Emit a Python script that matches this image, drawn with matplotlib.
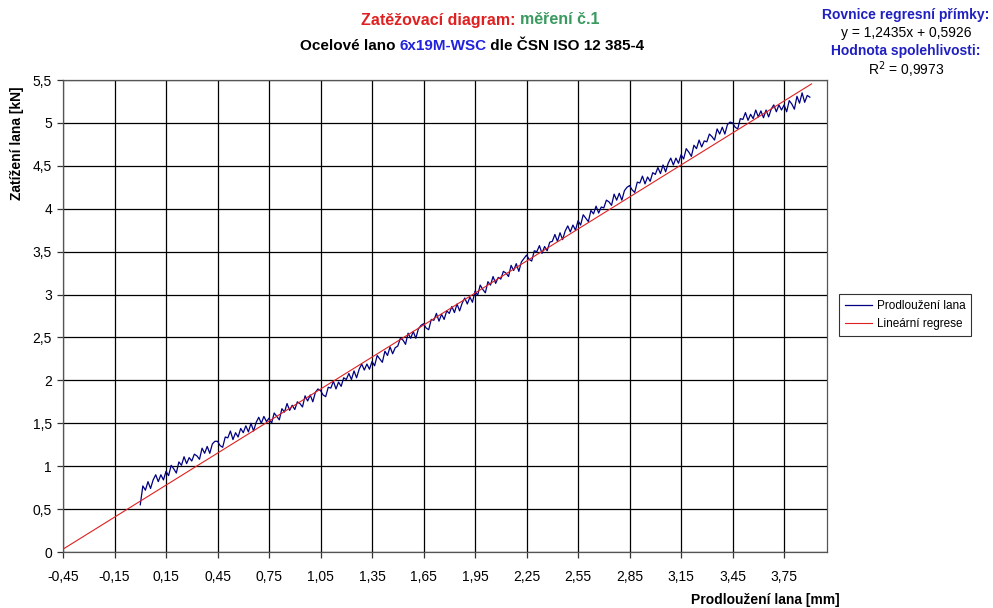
import matplotlib
matplotlib.use("Agg")
import matplotlib.pyplot as plt
from matplotlib.lines import Line2D

plt.rcParams['font.family'] = ['Liberation Sans', 'DejaVu Sans']

# ---- data ----
x_meas = [
    0.000, 0.015, 0.030, 0.045, 0.060, 0.075, 0.090, 0.105, 0.120, 0.135,
    0.150, 0.165, 0.180, 0.195, 0.210, 0.225, 0.240, 0.255, 0.270, 0.285,
    0.300, 0.315, 0.330, 0.345, 0.360, 0.375, 0.390, 0.405, 0.420, 0.435,
    0.450, 0.465, 0.480, 0.495, 0.510, 0.525, 0.540, 0.555, 0.570, 0.585,
    0.600, 0.615, 0.630, 0.645, 0.660, 0.675, 0.690, 0.705, 0.720, 0.735,
    0.750, 0.765, 0.780, 0.795, 0.810, 0.825, 0.840, 0.855, 0.870, 0.885,
    0.900, 0.915, 0.930, 0.945, 0.960, 0.975, 0.990, 1.005, 1.020, 1.035,
    1.050, 1.065, 1.080, 1.095, 1.110, 1.125, 1.140, 1.155, 1.170, 1.185,
    1.200, 1.215, 1.230, 1.245, 1.260, 1.275, 1.290, 1.305, 1.320, 1.335,
    1.350, 1.365, 1.380, 1.395, 1.410, 1.425, 1.440, 1.455, 1.470, 1.485,
    1.500, 1.515, 1.530, 1.545, 1.560, 1.575, 1.590, 1.605, 1.620, 1.635,
    1.650, 1.665, 1.680, 1.695, 1.710, 1.725, 1.740, 1.755, 1.770, 1.785,
    1.800, 1.815, 1.830, 1.845, 1.860, 1.875, 1.890, 1.905, 1.920, 1.935,
    1.950, 1.965, 1.980, 1.995, 2.010, 2.025, 2.040, 2.055, 2.070, 2.085,
    2.100, 2.115, 2.130, 2.145, 2.160, 2.175, 2.190, 2.205, 2.220, 2.235,
    2.250, 2.265, 2.280, 2.295, 2.310, 2.325, 2.340, 2.355, 2.370, 2.385,
    2.400, 2.415, 2.430, 2.445, 2.460, 2.475, 2.490, 2.505, 2.520, 2.535,
    2.550, 2.565, 2.580, 2.595, 2.610, 2.625, 2.640, 2.655, 2.670, 2.685,
    2.700, 2.715, 2.730, 2.745, 2.760, 2.775, 2.790, 2.805, 2.820, 2.835,
    2.850, 2.865, 2.880, 2.895, 2.910, 2.925, 2.940, 2.955, 2.970, 2.985,
    3.000, 3.015, 3.030, 3.045, 3.060, 3.075, 3.090, 3.105, 3.120, 3.135,
    3.150, 3.165, 3.180, 3.195, 3.210, 3.225, 3.240, 3.255, 3.270, 3.285,
    3.300, 3.315, 3.330, 3.345, 3.360, 3.375, 3.390, 3.405, 3.420, 3.435,
    3.450, 3.465, 3.480, 3.495, 3.510, 3.525, 3.540, 3.555, 3.570, 3.585,
    3.600, 3.615, 3.630, 3.645, 3.660, 3.675, 3.690, 3.705, 3.720, 3.735,
    3.750, 3.765, 3.780, 3.795, 3.810, 3.825, 3.840, 3.855, 3.870, 3.885,
    3.900]
y_meas = [
    0.55, 0.77, 0.72, 0.82, 0.74, 0.84, 0.90, 0.82, 0.90, 0.84,
    0.94, 0.89, 1.01, 0.97, 0.92, 1.05, 1.01, 1.11, 1.03, 1.10,
    1.06, 1.14, 1.12, 1.08, 1.21, 1.15, 1.23, 1.15, 1.26, 1.29,
    1.29, 1.24, 1.22, 1.34, 1.33, 1.41, 1.31, 1.39, 1.34, 1.44,
    1.39, 1.47, 1.40, 1.50, 1.41, 1.51, 1.57, 1.50, 1.58, 1.52,
    1.56, 1.50, 1.62, 1.58, 1.54, 1.67, 1.63, 1.73, 1.65, 1.71,
    1.66, 1.75, 1.73, 1.69, 1.82, 1.76, 1.83, 1.75, 1.86, 1.90,
    1.88, 1.83, 1.81, 1.92, 1.91, 1.99, 1.90, 1.98, 1.93, 2.03,
    2.01, 2.08, 2.01, 2.11, 2.03, 2.13, 2.19, 2.12, 2.19, 2.13,
    2.22, 2.17, 2.29, 2.25, 2.21, 2.34, 2.29, 2.39, 2.31, 2.38,
    2.40, 2.49, 2.47, 2.42, 2.55, 2.49, 2.57, 2.49, 2.60, 2.64,
    2.66, 2.61, 2.59, 2.71, 2.70, 2.78, 2.69, 2.77, 2.71, 2.81,
    2.78, 2.86, 2.79, 2.89, 2.81, 2.90, 2.96, 2.89, 2.97, 2.91,
    3.04, 2.99, 3.11, 3.06, 3.02, 3.15, 3.11, 3.21, 3.13, 3.20,
    3.18, 3.27, 3.25, 3.21, 3.34, 3.28, 3.36, 3.27, 3.38, 3.42,
    3.46, 3.41, 3.39, 3.51, 3.50, 3.57, 3.48, 3.56, 3.51, 3.61,
    3.62, 3.70, 3.62, 3.72, 3.64, 3.74, 3.80, 3.73, 3.81, 3.75,
    3.86, 3.81, 3.93, 3.89, 3.85, 3.98, 3.94, 4.03, 3.95, 4.02,
    4.01, 4.10, 4.08, 4.04, 4.17, 4.10, 4.18, 4.10, 4.21, 4.25,
    4.27, 4.22, 4.19, 4.31, 4.30, 4.38, 4.29, 4.37, 4.32, 4.42,
    4.40, 4.48, 4.41, 4.51, 4.43, 4.53, 4.59, 4.51, 4.59, 4.53,
    4.63, 4.58, 4.70, 4.66, 4.61, 4.74, 4.70, 4.80, 4.72, 4.79,
    4.78, 4.87, 4.84, 4.80, 4.93, 4.87, 4.95, 4.87, 4.98, 5.01,
    5.00, 4.95, 4.93, 5.05, 5.04, 5.12, 5.03, 5.10, 5.05, 5.15,
    5.07, 5.14, 5.06, 5.15, 5.07, 5.16, 5.21, 5.13, 5.21, 5.15,
    5.21, 5.13, 5.26, 5.22, 5.16, 5.31, 5.23, 5.35, 5.24, 5.32,
    5.30]
x_reg = [-0.45, 3.91]
slope = 1.2435
intercept = 0.5926
y_reg = [slope * v + intercept for v in x_reg]

x_ticks = [-0.45, -0.15, 0.15, 0.45, 0.75, 1.05, 1.35, 1.65, 1.95, 2.25,
           2.55, 2.85, 3.15, 3.45, 3.75]
y_ticks = [0, 0.5, 1, 1.5, 2, 2.5, 3, 3.5, 4, 4.5, 5, 5.5]


def cz(v, nd):
    s = f"{v:.{nd}f}".replace(".", ",")
    if nd == 1 and s.endswith(",0"):
        s = s[:-2]
    return s


fig = plt.figure(figsize=(9.93, 6.08), dpi=100)
ax = fig.add_axes([63/993, 1-552/608, (827-63)/993, (552-80)/608])

ax.plot(x_meas, y_meas, color='#000080', lw=0.9, label='Prodloužení lana', zorder=3)
ax.plot(x_reg, y_reg, color='#e02020', lw=0.8, label='Lineární regrese', zorder=4)

ax.set_xlim(-0.45, 4.0)
ax.set_ylim(0, 5.5)
ax.set_xticks(x_ticks)
ax.set_xticklabels([cz(v, 2) for v in x_ticks])
ax.set_yticks(y_ticks)
ax.set_yticklabels([cz(v, 1) for v in y_ticks])
ax.grid(True, color='black', lw=0.9)
ax.set_axisbelow(True)
for s in ['top', 'right', 'left', 'bottom']:
    ax.spines[s].set_color('#555555')
    ax.spines[s].set_linewidth(0.9)
ax.tick_params(direction='out', length=4, width=0.9, color='#333333',
               labelsize=10, pad=4)
ax.tick_params(axis='x', pad=9)

fig.text(17/993, 1-143/608, 'Zatížení lana [kN]', rotation=90, ha='center',
         va='center', fontsize=10, fontweight='bold')
fig.text(765/993, 1-600/608, 'Prodloužení lana [mm]', ha='center', va='center',
         fontsize=10, fontweight='bold')

leg = fig.legend(handles=[Line2D([], [], color='#000080', lw=0.9),
                          Line2D([], [], color='#e02020', lw=0.8)],
                 labels=['Prodloužení lana', 'Lineární regrese'],
                 loc='center', bbox_to_anchor=(905/993, 1-315/608),
                 fontsize=8.5, frameon=True, fancybox=False, edgecolor='black',
                 handlelength=2.3, handletextpad=0.4, borderpad=0.5,
                 labelspacing=0.5)
leg.get_frame().set_linewidth(0.8)


def multicolor(parts, xc, y, **kw):
    fig.canvas.draw()
    r = fig.canvas.get_renderer()
    texts = []
    for s, c in parts:
        t = fig.text(0, y, s, color=c, ha='left', va='center', **kw)
        texts.append(t)
    widths = [t.get_window_extent(r).width for t in texts]
    total = sum(widths)
    x0 = xc * fig.bbox.width - total / 2
    for t, w in zip(texts, widths):
        t.set_x(x0 / fig.bbox.width)
        x0 += w


multicolor([('Zatěžovací diagram: ', '#e02020'), ('měření č.1', '#3a9a60')],
           480/993, 1-20/608, fontsize=11.5, fontweight='bold')
multicolor([('Ocelové lano ', 'black'), ('6x19M-WSC', '#2222dd'),
            (' dle ČSN ISO 12 385-4', 'black')],
           472/993, 1-46/608, fontsize=11, fontweight='bold')

fig.text(906/993, 1-15/608, 'Rovnice regresní přímky:', color='#2020c0',
         ha='center', va='center', fontsize=10, fontweight='bold')
fig.text(906/993, 1-33/608, 'y = 1,2435x + 0,5926', color='black',
         ha='center', va='center', fontsize=10)
fig.text(906/993, 1-51/608, 'Hodnota spolehlivosti:', color='#2020c0',
         ha='center', va='center', fontsize=10, fontweight='bold')
fig.text(906/993, 1-70/608, 'R$^2$ = 0,9973', color='black',
         ha='center', va='center', fontsize=10)

fig.savefig('out.png', dpi=100)
